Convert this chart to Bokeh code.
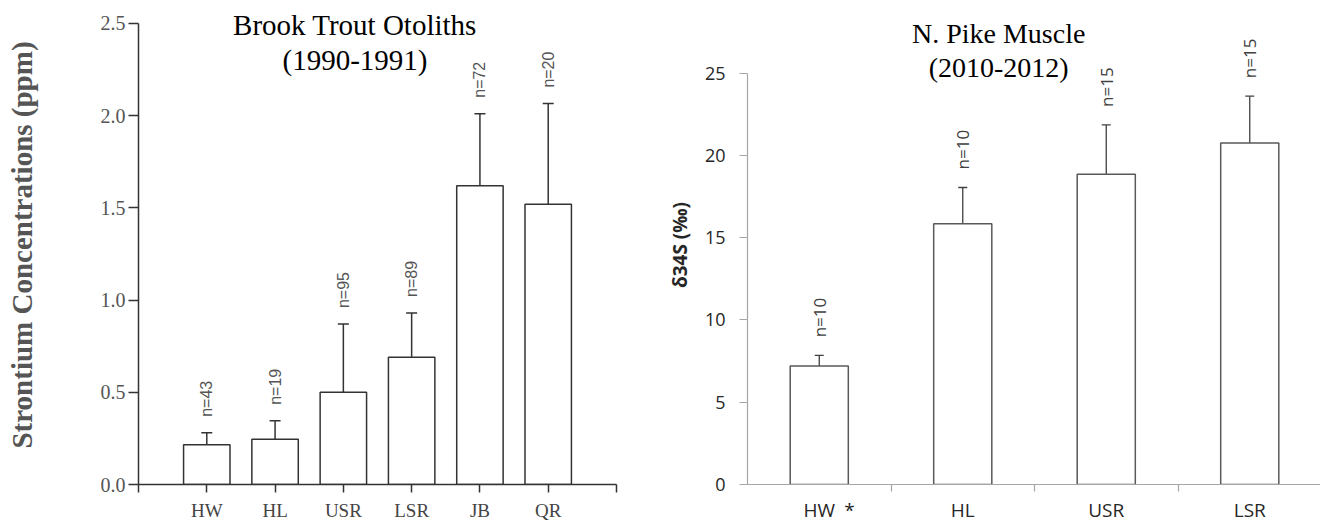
import numpy as np
from bokeh.plotting import figure
from bokeh.models import (ColumnDataSource, FixedTicker, Whisker, TeeHead, Label,
                          Range1d, NumeralTickFormatter)
from bokeh.layouts import row
from bokeh.embed import file_html
from bokeh.resources import INLINE
from bokeh.core.properties import value

# ---------------- data ----------------
trout_sites = ["HW", "HL", "USR", "LSR", "JB", "QR"]
trout_sr = [0.215, 0.245, 0.50, 0.69, 1.62, 1.52]
trout_err = [0.065, 0.10, 0.37, 0.24, 0.39, 0.545]
trout_n = ["n=43", "n=19", "n=95", "n=89", "n=72", "n=20"]
trout_yticks = [0.0, 0.5, 1.0, 1.5, 2.0, 2.5]

pike_sites = ["HW", "HL", "USR", "LSR"]
pike_d34s = [7.2, 15.85, 18.85, 20.75]
pike_err = [0.65, 2.2, 3.0, 2.85]
pike_n = ["n=10", "n=10", "n=15", "n=15"]
pike_yticks = [0, 5, 10, 15, 20, 25]
pike_marked = "HW"      # site flagged with an asterisk
ASTERISK_SHIFT = 0.21   # asterisk placed just right of the flagged site label

SERIF = "Liberation Serif"
SANS = "Open Sans"

# common frame geometry (both panels share frame top/bottom in a row)
FIG_H = 525
BORDER_TOP = 5
BORDER_BOTTOM = 38

# ---------------- left panel ----------------
pos1 = list(range(len(trout_sites)))
src1 = ColumnDataSource(dict(
    x=pos1, top=trout_sr,
    upper=[v + e for v, e in zip(trout_sr, trout_err)],
    lower=[v - e for v, e in zip(trout_sr, trout_err)],
    n=trout_n))

p1 = figure(width=640, height=FIG_H, output_backend="svg", toolbar_location=None,
            x_range=Range1d(-1, len(trout_sites)), y_range=Range1d(0, 2.597),
            min_border_left=138, min_border_right=24, min_border_top=BORDER_TOP,
            min_border_bottom=BORDER_BOTTOM)
p1.outline_line_color = None
p1.grid.visible = False
p1.background_fill_color = "white"
p1.border_fill_color = "white"

p1.vbar(x="x", top="top", bottom=0, width=0.68, source=src1,
        fill_color="white", line_color="#333333", line_width=1.5)
w1 = Whisker(base="x", upper="upper", lower="lower", source=src1, dimension="height",
             line_color="#333333", line_width=1.5,
             upper_head=TeeHead(size=11, line_color="#333333", line_width=1.5),
             lower_head=TeeHead(size=11, line_color="#333333", line_width=1.5))
p1.add_layout(w1)
p1.text(x="x", y="upper", text="n", source=src1, angle=np.pi / 2,
        text_align="left", text_baseline="middle", y_offset=-16,
        text_font=value("Liberation Sans"), text_font_size="16px", text_color="#555555")

p1.xaxis.ticker = FixedTicker(ticks=pos1, minor_ticks=[-1, len(trout_sites)])
p1.xaxis.major_label_overrides = {i: s for i, s in enumerate(trout_sites)}
p1.xaxis.major_tick_out = 8
p1.xaxis.major_tick_in = 0
p1.xaxis.minor_tick_out = 8
p1.xaxis.minor_tick_in = 0
p1.xaxis.major_label_standoff = 7
p1.xaxis.major_label_text_font = SERIF
p1.xaxis.major_label_text_font_size = "19px"
p1.xaxis.major_label_text_color = "#444444"

p1.yaxis.ticker = FixedTicker(ticks=trout_yticks)
p1.yaxis.bounds = (trout_yticks[0], trout_yticks[-1])
p1.yaxis.formatter = NumeralTickFormatter(format="0.0")
p1.yaxis.major_tick_out = 10
p1.yaxis.major_tick_in = 0
p1.yaxis.minor_tick_out = 0
p1.yaxis.minor_tick_in = 0
p1.yaxis.major_label_standoff = 3
p1.yaxis.major_label_text_font = SERIF
p1.yaxis.major_label_text_font_size = "20px"
p1.yaxis.major_label_text_color = "#555555"
p1.yaxis.axis_label = "Strontium Concentrations (ppm)"
p1.yaxis.axis_label_text_font = SERIF
p1.yaxis.axis_label_text_font_size = "29px"
p1.yaxis.axis_label_text_font_style = "bold"
p1.yaxis.axis_label_text_color = "#555555"
p1.yaxis.axis_label_standoff = 60
for ax in (p1.xaxis, p1.yaxis):
    ax.axis_line_color = "#333333"
    ax.axis_line_width = 1.5
    ax.major_tick_line_color = "#333333"
    ax.major_tick_line_width = 1.5
    ax.minor_tick_line_color = "#333333"
    ax.minor_tick_line_width = 1.5

p1.add_layout(Label(x=2.17, y=2.489, text="Brook Trout Otoliths", text_align="center",
                    text_baseline="alphabetic", text_font=SERIF, text_font_size="29px",
                    text_color="black"))
p1.add_layout(Label(x=2.17, y=2.304, text="(1990-1991)", text_align="center",
                    text_baseline="alphabetic", text_font=SERIF, text_font_size="29px",
                    text_color="black"))

# ---------------- right panel ----------------
pos2 = list(range(len(pike_sites)))
src2 = ColumnDataSource(dict(
    x=pos2, top=pike_d34s,
    upper=[v + e for v, e in zip(pike_d34s, pike_err)],
    lower=[v - e for v, e in zip(pike_d34s, pike_err)],
    n=pike_n))

p2 = figure(width=680, height=FIG_H, output_backend="svg", toolbar_location=None,
            x_range=Range1d(-0.5, len(pike_sites) - 0.507), y_range=Range1d(0, 29.11),
            min_border_left=107, min_border_right=0, min_border_top=BORDER_TOP,
            min_border_bottom=BORDER_BOTTOM)
p2.outline_line_color = None
p2.grid.visible = False
p2.background_fill_color = "white"
p2.border_fill_color = "white"

p2.vbar(x="x", top="top", bottom=0, width=0.405, source=src2,
        fill_color="white", line_color="#595959", line_width=1.5)
w2 = Whisker(base="x", upper="upper", lower="lower", source=src2, dimension="height",
             line_color="#404040", line_width=1.3,
             upper_head=TeeHead(size=9, line_color="#404040", line_width=1.3),
             lower_head=TeeHead(size=9, line_color="#404040", line_width=1.3))
p2.add_layout(w2)
p2.text(x="x", y="upper", text="n", source=src2, angle=np.pi / 2,
        text_align="left", text_baseline="middle", y_offset=-18,
        text_font=value(SANS), text_font_size="17px", text_color="#404040")

mark_pos = pos2[pike_sites.index(pike_marked)] + ASTERISK_SHIFT
label_ticks = pos2 + [mark_pos]
overrides = {i: s for i, s in enumerate(pike_sites)}
overrides[mark_pos] = "*"
p2.xaxis.ticker = FixedTicker(ticks=label_ticks,
                              minor_ticks=[i + 0.5 for i in range(len(pike_sites) - 1)])
p2.xaxis.major_label_overrides = overrides
p2.xaxis.major_tick_out = 0
p2.xaxis.major_tick_in = 0
p2.xaxis.minor_tick_out = 7
p2.xaxis.minor_tick_in = 0
p2.xaxis.major_label_standoff = 5
p2.xaxis.major_label_text_font = SANS
p2.xaxis.major_label_text_font_size = "19px"
p2.xaxis.major_label_text_color = "#262626"

p2.yaxis.ticker = FixedTicker(ticks=pike_yticks)
p2.yaxis.bounds = (pike_yticks[0], pike_yticks[-1])
p2.yaxis.major_tick_out = 8
p2.yaxis.major_tick_in = 0
p2.yaxis.minor_tick_out = 0
p2.yaxis.minor_tick_in = 0
p2.yaxis.major_label_standoff = 14
p2.yaxis.major_label_text_font = SANS
p2.yaxis.major_label_text_font_size = "18px"
p2.yaxis.major_label_text_color = "#262626"
p2.yaxis.axis_label = "δ34S (‰)"
p2.yaxis.axis_label_text_font = SANS
p2.yaxis.axis_label_text_font_size = "19px"
p2.yaxis.axis_label_text_font_style = "bold"
p2.yaxis.axis_label_text_color = "#262626"
p2.yaxis.axis_label_standoff = 9
for ax in (p2.xaxis, p2.yaxis):
    ax.axis_line_color = "#a6a6a6"
    ax.axis_line_width = 1.2
    ax.major_tick_line_color = "#a6a6a6"
    ax.major_tick_line_width = 1.2
    ax.minor_tick_line_color = "#a6a6a6"
    ax.minor_tick_line_width = 1.2

p2.add_layout(Label(x=1.25, y=27.42, text="N. Pike Muscle", text_align="center",
                    text_baseline="alphabetic", text_font=SERIF, text_font_size="28px",
                    text_color="black"))
p2.add_layout(Label(x=1.25, y=25.36, text="(2010-2012)", text_align="center",
                    text_baseline="alphabetic", text_font=SERIF, text_font_size="28px",
                    text_color="black"))

layout = row(p1, p2, spacing=0)
open("out.html", "w").write(file_html(layout, INLINE))
